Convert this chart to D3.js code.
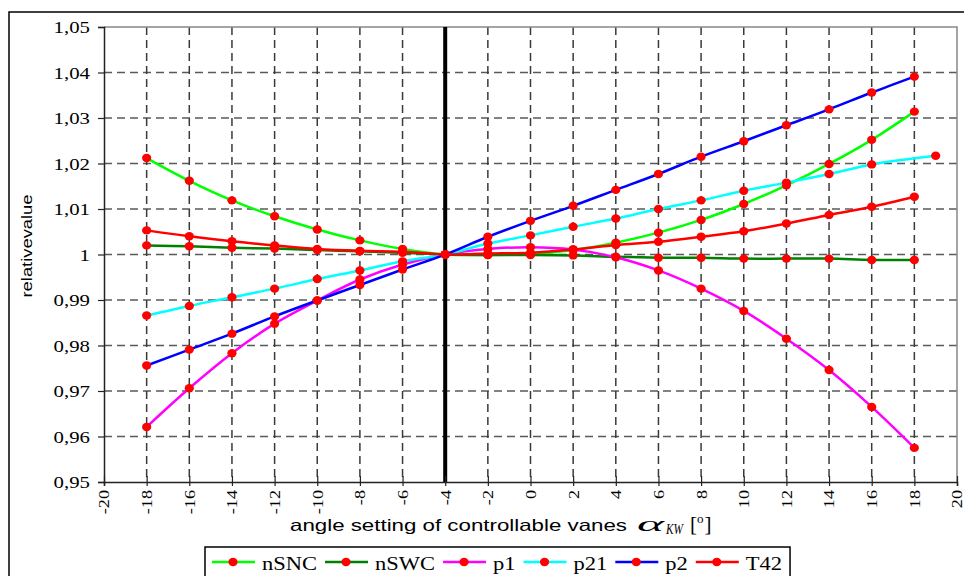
<!DOCTYPE html>
<meta charset="utf-8">
<script src="https://d3js.org/d3.v7.min.js"></script>
<style>
  body { margin: 0; background: #fff; }
</style>
<div id="my_dataviz"></div>

<script>

// angle settings (x values)
var angles = [-18,-16,-14,-12,-10,-8,-6,-4,-2,0,2,4,6,8,10,12,14,16,18];
var anglesP21 = [-18,-16,-14,-12,-10,-8,-6,-4,-2,0,2,4,6,8,10,12,14,16,19];

// relative values
var nSNC = [1.0212,1.0162,1.0119,1.0084,1.0055,1.0031,1.0012,1.0000,0.9999,1.0001,1.0010,1.0026,1.0048,1.0076,1.0111,1.0152,1.0199,1.0252,1.0314];
var nSWC = [1.0020,1.0018,1.0015,1.0013,1.0010,1.0007,1.0004,1.0000,0.9999,0.9999,0.9998,0.9995,0.9993,0.9993,0.9991,0.9991,0.9991,0.9988,0.9988];
var p1   = [0.9621,0.9706,0.9783,0.9848,0.9899,0.9945,0.9978,1.0000,1.0012,1.0016,1.0011,0.9994,0.9965,0.9925,0.9876,0.9815,0.9746,0.9665,0.9575];
var p21  = [0.9866,0.9887,0.9906,0.9925,0.9946,0.9965,0.9985,1.0000,1.0024,1.0042,1.0061,1.0079,1.0100,1.0119,1.0140,1.0158,1.0177,1.0198,1.0217];
var p2   = [0.9756,0.9791,0.9826,0.9864,0.9899,0.9933,0.9967,1.0000,1.0039,1.0074,1.0107,1.0142,1.0177,1.0215,1.0249,1.0284,1.0319,1.0356,1.0391];
var T42  = [1.0053,1.0040,1.0029,1.0020,1.0012,1.0008,1.0006,1.0000,1.0002,1.0004,1.0011,1.0021,1.0028,1.0039,1.0051,1.0068,1.0087,1.0105,1.0127];

var seriesNames = ["nSNC","nSWC","p1","p21","p2","T42"];
var seriesColors = ["#00ff00","#008000","#ff00ff","#00ffff","#0000ff","#ff0000"];

var xTicks = d3.range(-20, 21, 2);
var yTicks = [0.95,0.96,0.97,0.98,0.99,1,1.01,1.02,1.03,1.04,1.05];
var refAngle = -4;

var SERIF = "'Liberation Serif', 'Times New Roman', serif";
var SANS = "'Liberation Sans', Arial, sans-serif";

var yData = [nSNC, nSWC, p1, p21, p2, T42];
var xData = [angles, angles, angles, anglesP21, angles, angles];
var series = seriesNames.map(function(name, i) {
  return {
    name: name,
    color: seriesColors[i],
    values: xData[i].map(function(a, j) { return [a, yData[i][j]]; })
  };
});

// layout
var W = 964, H = 576;
var margin = {top: 27, right: 7, bottom: 94, left: 104},
    width = W - margin.left - margin.right,
    height = H - margin.top - margin.bottom;

var root = d3.select("#my_dataviz")
  .append("svg")
    .attr("width", W)
    .attr("height", H);

// outer chart frame
root.append("rect")
  .attr("x", 9).attr("y", 12)
  .attr("width", W).attr("height", H)
  .attr("fill", "none")
  .attr("stroke", "#000")
  .attr("stroke-width", 1.5);

var svg = root.append("g")
  .attr("transform", "translate(" + margin.left + "," + margin.top + ")");

var x = d3.scaleLinear().domain([-20, 20]).range([0, width]);
var y = d3.scaleLinear().domain([0.95, 1.05]).range([height, 0]);

// stretch helper: Excel-like wide glyphs
function stretch(sel, f) {
  sel.each(function() {
    var len = this.getComputedTextLength();
    d3.select(this).attr("textLength", len * f).attr("lengthAdjust", "spacingAndGlyphs");
  });
}

// grid
svg.append("g")
  .selectAll("line")
  .data(yTicks.filter(function(d) { return d > 0.951 && d < 1.049; }))
  .enter().append("line")
    .attr("x1", 0).attr("x2", width)
    .attr("y1", function(d) { return y(d); })
    .attr("y2", function(d) { return y(d); })
    .attr("stroke", "#5a5a5a")
    .attr("stroke-width", 1.5)
    .attr("stroke-dasharray", "8,5");

svg.append("g")
  .selectAll("line")
  .data(xTicks.filter(function(d) { return d > -20 && d < 20; }))
  .enter().append("line")
    .attr("x1", function(d) { return x(d); })
    .attr("x2", function(d) { return x(d); })
    .attr("y1", 0).attr("y2", height)
    .attr("stroke", "#3a3a3a")
    .attr("stroke-width", 1.5)
    .attr("stroke-dasharray", "8,5");

// top and right plot border
svg.append("path")
  .attr("d", "M0,0H" + width + "V" + height)
  .attr("fill", "none")
  .attr("stroke", "#888")
  .attr("stroke-width", 1.5);

// reference line at -4
svg.append("line")
  .attr("x1", x(refAngle)).attr("x2", x(refAngle))
  .attr("y1", 0).attr("y2", height)
  .attr("stroke", "#000")
  .attr("stroke-width", 4);

// Y axis
var yAxis = svg.append("g")
  .call(d3.axisLeft(y).tickValues(yTicks).tickSize(6)
    .tickFormat(function(d) { return d === 1 ? "1" : d3.format(".2f")(d).replace(".", ","); }));
yAxis.attr("font-family", SERIF).attr("font-size", 16);
yAxis.select(".domain").attr("stroke", "#222").attr("stroke-width", 1.5);
yAxis.selectAll(".tick line").attr("stroke", "#222").attr("stroke-width", 1.2);
yAxis.selectAll(".tick text")
  .attr("x", -14)
  .attr("dy", "0.36em")
  .style("font-family", SERIF)
  .style("font-size", "16px")
  .attr("fill", "#000")
  .call(stretch, 1.3);

// X axis
var xAxis = svg.append("g")
  .attr("transform", "translate(0," + height + ")")
  .call(d3.axisBottom(x).tickValues(xTicks).tickSize(4)
    .tickFormat(function(d) { return String(d); }));
xAxis.attr("font-family", SERIF).attr("font-size", 14);
xAxis.select(".domain").attr("stroke", "#222").attr("stroke-width", 1.5);
xAxis.selectAll(".tick line").attr("y1", -6).attr("stroke", "#222").attr("stroke-width", 1.2);
xAxis.selectAll(".tick text")
  .attr("transform", "rotate(-90)")
  .attr("text-anchor", "end")
  .attr("x", -8)
  .attr("y", 0)
  .attr("dy", "0.35em")
  .style("font-family", SERIF)
  .style("font-size", "14px")
  .attr("fill", "#000")
  .call(stretch, 1.3);

// axis titles
var xt = root.append("text")
  .attr("x", 290)
  .attr("y", 531)
  .style("font-family", SANS)
  .style("font-size", "16.5px");
xt.append("tspan").text("angle setting of controllable vanes")
  .attr("textLength", 337).attr("lengthAdjust", "spacingAndGlyphs");
xt.append("tspan")
  .attr("x", 637)
  .style("font-family", SERIF)
  .style("font-style", "italic")
  .style("font-size", "22px")
  .attr("textLength", 27).attr("lengthAdjust", "spacingAndGlyphs")
  .text("\u03b1");
xt.append("tspan")
  .attr("x", 666)
  .attr("dy", 3)
  .style("font-family", SERIF)
  .style("font-style", "italic")
  .style("font-size", "14px")
  .attr("textLength", 17).attr("lengthAdjust", "spacingAndGlyphs")
  .text("KW");
xt.append("tspan")
  .attr("x", 690)
  .attr("dy", -3)
  .style("font-family", SERIF)
  .style("font-size", "21px")
  .text("[");
xt.append("tspan")
  .attr("dy", -8)
  .style("font-family", SERIF)
  .style("font-size", "13px")
  .text("o");
xt.append("tspan")
  .attr("dy", 8)
  .attr("dx", 1)
  .style("font-family", SERIF)
  .style("font-size", "21px")
  .text("]");

root.append("text")
  .attr("transform", "translate(32,246) rotate(-90)")
  .attr("text-anchor", "middle")
  .style("font-family", SANS)
  .style("font-size", "15px")
  .attr("textLength", 103)
  .attr("lengthAdjust", "spacingAndGlyphs")
  .text("relativevalue");

// lines
var line = d3.line()
  .curve(d3.curveCatmullRom)
  .x(function(d) { return x(d[0]); })
  .y(function(d) { return y(d[1]); });

series.forEach(function(s) {
  var g = svg.append("g");
  g.append("path")
    .datum(s.values)
    .attr("fill", "none")
    .attr("stroke", s.color)
    .attr("stroke-width", 2.5)
    .attr("d", line);
  g.selectAll("ellipse")
    .data(s.values)
    .enter().append("ellipse")
      .attr("cx", function(d) { return x(d[0]); })
      .attr("cy", function(d) { return y(d[1]); })
      .attr("rx", 4.6)
      .attr("ry", 4.2)
      .attr("fill", "#ff0000");
});

// legend
var legend = root.append("g");
var legendBox = legend.append("rect")
  .attr("x", 205).attr("y", 547)
  .attr("height", 40)
  .attr("fill", "#fff")
  .attr("stroke", "#000")
  .attr("stroke-width", 1.5);

var cx = 212;
series.forEach(function(s) {
  legend.append("line")
    .attr("x1", cx).attr("x2", cx + 43)
    .attr("y1", 562).attr("y2", 562)
    .attr("stroke", s.color)
    .attr("stroke-width", 2.5);
  legend.append("ellipse")
    .attr("cx", cx + 21).attr("cy", 562)
    .attr("rx", 4.6).attr("ry", 4.2)
    .attr("fill", "#ff0000");
  var t = legend.append("text")
    .attr("x", cx + 50)
    .attr("y", 570)
    .style("font-family", SERIF)
    .style("font-size", "18px")
    .text(s.name)
    .call(stretch, 1.25);
  cx += 50 + (+t.attr("textLength")) + 8;
});
legendBox.attr("width", cx - 205);

</script>
